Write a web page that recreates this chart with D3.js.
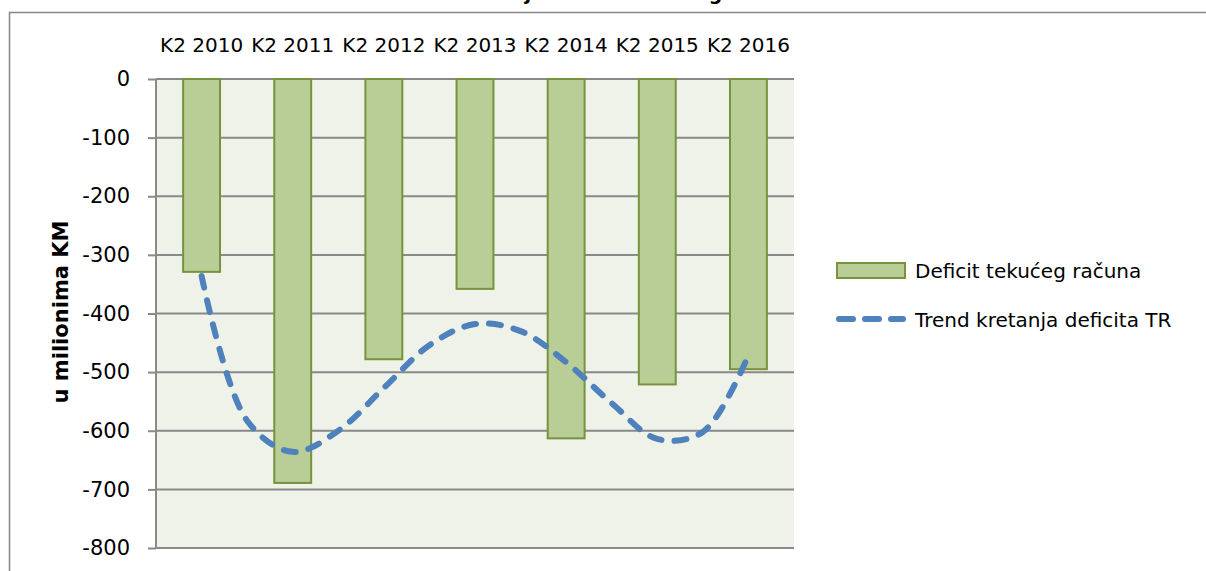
<!DOCTYPE html>
<html>
<head>
<meta charset="utf-8">
<script src="https://cdn.jsdelivr.net/npm/d3@7"></script>
<style>
  html, body { margin: 0; padding: 0; background: #fff; }
  svg { display: block; font-family: "DejaVu Sans", sans-serif; }
</style>
</head>
<body>
<div id="root"></div>
<script>
// category labels (quarter 2 of each year)
const quarters = ['K2 2010', 'K2 2011', 'K2 2012', 'K2 2013', 'K2 2014', 'K2 2015', 'K2 2016']
// current account deficit, millions KM
const deficitValues = [-329, -689, -478, -358, -613, -521, -495]
// trend line, positions in category units (0 = first quarter)
const trendPositions = [0, 0.5, 1, 1.5, 2, 2.5, 3, 3.5, 4, 4.5, 5, 5.5, 6]
const trendValues = [-336, -583, -636, -600, -527, -454, -418, -430, -483, -553, -614, -602, -471]
const yTicks = [0, -100, -200, -300, -400, -500, -600, -700, -800]

const seriesNames = ['Deficit tekućeg računa', 'Trend kretanja deficita TR']
const TITLE = 'Grafikon 1: Kretanje deficita tekućeg računa u BiH'
const Y_TITLE = 'u milionima KM'

const WIDTH = 1206
const HEIGHT = 571

const PLOT_LEFT = 156
const PLOT_RIGHT = 794
const PLOT_TOP = 79
const PLOT_BOTTOM = 548

const BAR_FILL = '#b9cd96'
const BAR_STROKE = '#77933c'
const TREND_COLOR = '#4f81bd'
const GRID_COLOR = '#898989'
const TREND_DASH = '12,13'

const svg = d3.select('#root')
    .append('svg')
    .attr('width', WIDTH)
    .attr('height', HEIGHT)

// outer chart frame (only left and top edges are in view)
svg.append('rect')
    .attr('x', 9.5)
    .attr('y', 12.5)
    .attr('width', 1300)
    .attr('height', 700)
    .attr('fill', 'none')
    .attr('stroke', '#878787')
    .attr('stroke-width', 1.5)

// title, mostly cut off at the top edge as in the source picture
svg.append('text')
    .attr('x', 597)
    .attr('y', -0.5)
    .attr('text-anchor', 'middle')
    .attr('font-weight', 'bold')
    .attr('font-size', 20)
    .attr('textLength', 536)
    .attr('lengthAdjust', 'spacingAndGlyphs')
    .text(TITLE)

const xScale = d3.scaleBand()
    .domain(quarters)
    .range([PLOT_LEFT, PLOT_RIGHT])
    .paddingInner(0.595)
    .paddingOuter(0.2975)

const yScale = d3.scaleLinear()
    .domain([0, -800])
    .range([PLOT_TOP, PLOT_BOTTOM])

const centerOf = (q) => xScale(q) + xScale.bandwidth() / 2
const trendX = d3.scaleLinear()
    .domain([0, quarters.length - 1])
    .range([centerOf(quarters[0]), centerOf(quarters[quarters.length - 1])])

// plot background
svg.append('rect')
    .attr('x', PLOT_LEFT)
    .attr('y', PLOT_TOP)
    .attr('width', PLOT_RIGHT - PLOT_LEFT)
    .attr('height', PLOT_BOTTOM - PLOT_TOP)
    .attr('fill', '#eff2e9')

// y axis with gridlines
const yAxis = d3.axisLeft(yScale)
    .tickValues(yTicks)
    .tickSize(8)
    .tickPadding(18)
    .tickFormat((d) => String(d))

const yAxisG = svg.append('g')
    .attr('transform', `translate(${PLOT_LEFT},0)`)
    .call(yAxis)

yAxisG.select('.domain').remove()
yAxisG.selectAll('.tick line')
    .attr('stroke', GRID_COLOR)
    .attr('stroke-width', 2)
yAxisG.selectAll('.tick text')
    .attr('font-size', 21)
    .attr('font-family', '"DejaVu Sans", sans-serif')
    .attr('fill', '#000')

svg.append('g')
    .selectAll('line')
    .data(yTicks)
    .enter()
    .append('line')
    .attr('x1', PLOT_LEFT)
    .attr('x2', PLOT_RIGHT)
    .attr('y1', (d) => yScale(d))
    .attr('y2', (d) => yScale(d))
    .attr('stroke', GRID_COLOR)
    .attr('stroke-width', 2)

// y axis line
svg.append('line')
    .attr('x1', PLOT_LEFT)
    .attr('x2', PLOT_LEFT)
    .attr('y1', PLOT_TOP)
    .attr('y2', PLOT_BOTTOM)
    .attr('stroke', GRID_COLOR)
    .attr('stroke-width', 2)

// category labels above the plot
const xAxis = d3.axisTop(xScale).tickSize(0).tickPadding(0)
const xAxisG = svg.append('g')
    .attr('transform', `translate(0,52)`)
    .call(xAxis)
xAxisG.select('.domain').remove()
xAxisG.selectAll('.tick text')
    .attr('font-size', 20)
    .attr('font-family', '"DejaVu Sans", sans-serif')
    .attr('fill', '#000')
    .attr('dy', 0)

// y axis title
svg.append('text')
    .attr('transform', `translate(68,312) rotate(-90)`)
    .attr('text-anchor', 'middle')
    .attr('font-weight', 'bold')
    .attr('font-size', 21)
    .text(Y_TITLE)

// bars
svg.append('g')
    .selectAll('rect')
    .data(deficitValues)
    .enter()
    .append('rect')
    .attr('x', (_, i) => xScale(quarters[i]))
    .attr('y', yScale(0))
    .attr('width', xScale.bandwidth())
    .attr('height', (d) => yScale(d) - yScale(0))
    .attr('fill', BAR_FILL)
    .attr('stroke', BAR_STROKE)
    .attr('stroke-width', 2)

// trend line
const trendLine = d3.line()
    .x((d) => trendX(d[0]))
    .y((d) => yScale(d[1]))
    .curve(d3.curveCatmullRom.alpha(0.5))

svg.append('path')
    .datum(d3.zip(trendPositions, trendValues))
    .attr('d', trendLine)
    .attr('fill', 'none')
    .attr('stroke', TREND_COLOR)
    .attr('stroke-width', 6)
    .attr('stroke-dasharray', TREND_DASH)
    .attr('stroke-linecap', 'round')

// legend
const legend = svg.append('g')

legend.append('rect')
    .attr('x', 837)
    .attr('y', 263)
    .attr('width', 68)
    .attr('height', 15)
    .attr('fill', BAR_FILL)
    .attr('stroke', BAR_STROKE)
    .attr('stroke-width', 2)

legend.append('line')
    .attr('x1', 839)
    .attr('x2', 903)
    .attr('y1', 319)
    .attr('y2', 319)
    .attr('stroke', TREND_COLOR)
    .attr('stroke-width', 6)
    .attr('stroke-dasharray', '14,12')
    .attr('stroke-linecap', 'round')

legend.selectAll('text')
    .data(seriesNames)
    .enter()
    .append('text')
    .attr('x', 915)
    .attr('y', (_, i) => 278 + i * 49)
    .attr('font-size', 20)
    .text((d) => d)
</script>
</body>
</html>
